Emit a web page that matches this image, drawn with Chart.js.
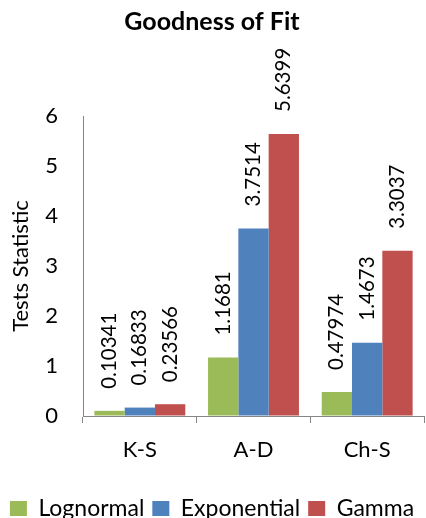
<!DOCTYPE html>
<html>
<head>
<meta charset="utf-8">
<script src="https://cdn.jsdelivr.net/npm/chart.js@4/dist/chart.umd.min.js"></script>
<style>
  html, body { margin: 0; padding: 0; background: #ffffff; }
  #wrap { width: 426px; height: 518px; }
</style>
</head>
<body>
<div id="wrap"><canvas id="c" width="426" height="518"></canvas></div>
<script>
// Goodness-of-fit test statistics per distribution
const categories = ['K-S', 'A-D', 'Ch-S'];
const seriesNames = ['Lognormal', 'Exponential', 'Gamma'];
const lognormalValues = [0.10341, 1.1681, 0.47974];
const exponentialValues = [0.16833, 3.7514, 1.4673];
const gammaValues = [0.23566, 5.6399, 3.3037];
const yTickValues = [0, 1, 2, 3, 4, 5, 6];

const seriesColors = ['#9BBB59', '#4F81BD', '#C0504D'];
const FONT = 'Lato, "Open Sans", sans-serif';
const AXIS_GREY = '#868686';

// Rotated value labels above each bar
const valueLabels = {
  id: 'valueLabels',
  afterDatasetsDraw(chart) {
    const ctx = chart.ctx;
    ctx.save();
    ctx.font = '20.5px ' + FONT;
    ctx.fillStyle = '#000000';
    ctx.textAlign = 'left';
    ctx.textBaseline = 'middle';
    chart.data.datasets.forEach((ds, di) => {
      const meta = chart.getDatasetMeta(di);
      meta.data.forEach((bar, i) => {
        ctx.save();
        ctx.translate(bar.x, bar.y - 22);
        ctx.rotate(-Math.PI / 2);
        ctx.fillText(String(ds.data[i]), 0, 0);
        ctx.restore();
      });
    });
    ctx.restore();
  }
};

const chart = new Chart(document.getElementById('c'), {
  type: 'bar',
  data: {
    labels: categories,
    datasets: [
      { label: seriesNames[0], data: lognormalValues, backgroundColor: seriesColors[0] },
      { label: seriesNames[1], data: exponentialValues, backgroundColor: seriesColors[1] },
      { label: seriesNames[2], data: gammaValues, backgroundColor: seriesColors[2] }
    ]
  },
  options: {
    responsive: false,
    animation: false,
    layout: { padding: { left: 0, right: 2, top: 0, bottom: -12 } },
    datasets: {
      bar: { categoryPercentage: 0.8, barPercentage: 1.0, borderWidth: 0 }
    },
    plugins: {
      title: {
        display: true,
        text: 'Goodness of Fit',
        color: '#000000',
        font: { family: FONT, size: 25, weight: 'bold' },
        padding: { top: 7, bottom: 79 }
      },
      legend: {
        display: true,
        position: 'bottom',
        labels: {
          color: '#000000',
          font: { family: FONT, size: 23 },
          boxWidth: 17,
          boxHeight: 15,
          padding: 8
        }
      },
      tooltip: { enabled: false }
    },
    scales: {
      x: {
        afterFit(scale) { scale.height = 73; },
        grid: {
          display: true,
          offset: true,
          drawOnChartArea: false,
          drawTicks: true,
          tickLength: 7,
          color: AXIS_GREY
        },
        border: { display: true, color: AXIS_GREY, width: 1 },
        ticks: {
          color: '#000000',
          font: { family: FONT, size: 22 },
          padding: 14
        }
      },
      y: {
        min: 0,
        max: 6,
        afterBuildTicks(scale) {
          scale.ticks = yTickValues.map(v => ({ value: v }));
        },
        afterFit(scale) { scale.width = 83; },
        grid: { display: true, drawOnChartArea: false, drawTicks: false },
        border: { display: true, color: AXIS_GREY, width: 1 },
        ticks: {
          color: '#000000',
          font: { family: FONT, size: 22 },
          padding: 25
        },
        title: {
          display: true,
          text: 'Tests Statistic',
          color: '#000000',
          font: { family: FONT, size: 22 },
          padding: { top: 8, bottom: 0 }
        }
      }
    }
  },
  plugins: [valueLabels]
});
</script>
</body>
</html>
